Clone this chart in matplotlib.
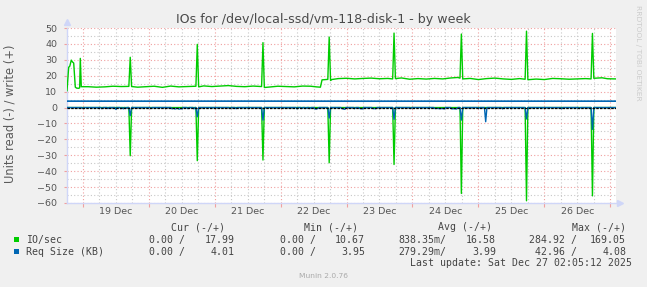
import matplotlib
matplotlib.use("Agg")
import matplotlib.pyplot as plt
from matplotlib.ticker import MultipleLocator
import numpy as np

# ---------------- data (hours relative to 19 Dec 00:00) ----------------
write_t = [-5.71, -5.1, -4.7, -4.15, -3.7, -3.27, -2.69, -2.2, -1.45, -1.1, -0.87, -0.51,
           2, 5, 8, 11, 14, 16.8, 17.3, 17.8, 20, 23, 26, 29, 32, 35, 38, 41.2, 41.7, 42.2,
           44, 47, 50, 53, 56, 59, 62, 65.1, 65.6, 66.1, 68, 71, 74, 77, 80, 83, 85, 86.5,
           87.1, 89.2, 89.7, 90.2, 90.6, 93, 96, 99, 102, 105, 108, 111, 112.8, 113.3, 113.8,
           116, 119, 122, 125, 128, 131, 134, 136.5, 137.3, 137.8, 138.3, 141, 144, 147, 150,
           153, 156, 159, 161.0, 161.5, 162.0, 165, 168, 171, 174, 177, 180, 183, 185.0,
           185.5, 186.0, 189, 191, 194.07]
write_io = [10.6, 25.3, 26.0, 29.8, 28.6, 28.0, 12.8, 12.2, 12.1, 12.4, 30.9, 13.1,
            13.1, 12.8, 13.0, 13.4, 13.2, 13.3, 31.6, 13.2, 12.8, 13.1, 13.4, 12.7, 13.5, 13.0, 13.2, 13.4, 39.7, 13.0,
            13.6, 13.2, 13.5, 13.8, 13.3, 13.1, 13.5, 13.2, 40.8, 12.6, 12.9, 13.4, 13.2, 13.0, 13.5, 13.4, 13.0, 12.8,
            17.4, 17.7, 44.3, 17.0, 17.6, 18.2, 18.4, 18.0, 18.3, 18.5, 18.1, 18.3, 18.0, 46.8,
            18.2, 18.6, 17.8, 18.2, 17.9, 18.3, 18.0, 18.6, 18.9, 18.5, 46.2, 18.0, 18.3, 17.6, 18.2, 18.5,
            18.0, 17.7, 18.2, 17.8, 48.0, 17.5, 17.9, 17.6, 18.3, 18.1, 17.8, 18.0, 18.2, 18.0,
            46.6, 18.4, 18.7, 18.1, 17.99]

read_t = [-5.71, 16.8, 17.3, 17.8, 41.2, 41.7, 42.2, 65.1, 65.6, 66.1, 89.2, 89.7, 90.2,
          112.8, 113.3, 113.8, 137.3, 137.8, 138.3, 161.0, 161.5, 162.0, 185.0, 185.5, 186.0, 194.07]
read_io = [0, 0, 30.3, 0, 0, 33.4, 0, 0, 33.0, 0, 0, 34.7, 0,
           0, 35.8, 0, 0, 54.0, 0, 0, 58.6, 0, 0, 55.5, 0, 0]

wsize_t = [-5.71, 20, 60, 100, 140, 194.07]
wsize_kb = [4.02, 4.00, 4.03, 3.99, 4.01, 4.01]

rsize_t = [-5.71, -0.3, 0.1, 0.5, 6.6, 7.0, 7.4, 8.8, 9.2, 9.6, 11.7, 12.1, 12.5, 13.5, 13.9, 14.3,
           14.8, 15.2, 15.7, 16.1, 16.8, 17.3, 17.8, 24.4, 24.8, 25.2, 32.1, 32.5, 33.1, 33.7,
           34.4, 35.1, 35.7, 36.1, 36.5, 37.9, 38.3, 38.7, 40.1, 40.5, 40.9, 41.2, 41.7, 42.2,
           53.2, 53.6, 54.0, 55.4, 55.8, 56.2, 65.1, 65.6, 66.1, 77.6, 78.0, 78.4, 79.3, 79.7,
           80.1, 80.8, 81.2, 81.6, 82.3, 82.7, 83.1, 84.1, 84.5, 85.1, 85.6, 86.0, 89.2, 89.7,
           90.2, 93.9, 94.3, 95.4, 95.8, 98.6, 99.0, 99.4, 100.4, 100.8, 101.9, 102.3, 105.2,
           105.6, 106.7, 107.1, 112.8, 113.3, 113.8, 119.0, 119.4, 119.8, 127.7, 128.1, 129.0,
           129.9, 130.8, 131.7, 132.1, 133.9, 134.3, 135.2, 136.1, 136.5, 137.3, 137.8, 138.3,
           143.7, 144.1, 144.5, 146.2, 146.65, 147.1, 152.4, 152.8, 153.2, 161.0, 161.5, 162.0,
           173.9, 174.3, 174.7, 180.4, 180.8, 181.2, 185.0, 185.5, 186.0, 194.07]
rsize_kb = [0, 0, 0.6, 0, 0, 0.7, 0, 0, 0.6, 0, 0, 1.2, 0, 0, 0.7, 0,
            0.8, 0, 0.6, 0, 0, 5.1, 0, 0, 0.6, 0, 0, 0.8, 0.5, 0.9,
            0.4, 1.0, 0.6, 0.8, 0, 0, 0.7, 0, 0, 0.8, 0, 0, 5.8, 0,
            0, 0.6, 0, 0, 0.7, 0, 0, 7.9, 0, 0, 0.8, 0, 0, 0.6,
            0, 0, 0.6, 0, 0, 0.7, 0, 0, 0.8, 0.9, 0.5, 0, 0, 6.6,
            0, 0, 0.6, 1.1, 0, 0, 0.7, 0, 0, 0.6, 0.8, 0, 0,
            0.6, 0.7, 0, 0, 7.4, 0, 0, 0.6, 0, 0, 0.6, 0.5,
            0.7, 0.6, 0.8, 0, 0, 0.8, 0.7, 0.9, 0, 0, 7.9, 0,
            0, 0.6, 0, 0, 8.9, 0, 0, 0.8, 0, 0, 7.2, 0,
            0, 0.7, 0, 0, 0.6, 0, 0, 13.7, 0, 0]

day_labels = ['19 Dec', '20 Dec', '21 Dec', '22 Dec', '23 Dec', '24 Dec', '25 Dec', '26 Dec']

legend_names = ['IO/sec', 'Req Size (KB)']
legend_colors = ['#00CC00', '#0066B3']
cur_vals = [('0.00 /', '17.99'), ('0.00 /', '4.01')]
min_vals = [('0.00 /', '10.67'), ('0.00 /', '3.95')]
avg_vals = [('838.35m/', '16.58'), ('279.29m/', '3.99')]
max_vals = [('284.92 /', '169.05'), ('42.96 /', '4.08')]

# ---------------- figure ----------------
W, H = 647, 287
fig = plt.figure(figsize=(W / 100, H / 100), dpi=100, facecolor='#F0F0F0')
x0, x1, ytop, ybot = 67, 616, 28, 203
ax = fig.add_axes([x0 / W, (H - ybot) / H, (x1 - x0) / W, (ybot - ytop) / H])
ax.set_facecolor('white')

xmin, xmax = -5.71, 194.07
ax.set_xlim(xmin, xmax)
ax.set_ylim(-60, 50)

# grid
ax.xaxis.set_major_locator(MultipleLocator(24))
ax.xaxis.set_minor_locator(MultipleLocator(6))
ax.yaxis.set_major_locator(MultipleLocator(10))
ax.yaxis.set_minor_locator(MultipleLocator(5))
ax.grid(which='major', color='#F0A0A0', linestyle=(0, (1, 2)), linewidth=0.8)
ax.grid(which='minor', color='#C8C8C8', linestyle=(0, (1, 2)), linewidth=0.8)
ax.set_axisbelow(True)

# data
green, blue = legend_colors
ax.plot(write_t, write_io, color=green, lw=1.0, zorder=3)
ax.plot(read_t, -np.array(read_io), color=green, lw=1.0, zorder=3)
ax.plot(wsize_t, wsize_kb, color=blue, lw=1.2, zorder=4)
ax.plot(rsize_t, -np.array(rsize_kb), color=blue, lw=1.0, zorder=4)
ax.axhline(0, color='black', lw=0.9, linestyle=(0, (2, 1)), zorder=5)

# spines / ticks
for s in ['top', 'right']:
    ax.spines[s].set_visible(False)
for s in ['left', 'bottom']:
    ax.spines[s].set_color('#CFD6F8')
    ax.spines[s].set_linewidth(1.0)
ax.tick_params(axis='x', which='both', labelbottom=False, length=3, color='#F0A0A0', width=0.8)
ax.tick_params(axis='x', which='minor', length=0)
ax.tick_params(axis='y', which='major', length=2, color='#F0A0A0', width=0.8,
               labelsize=6.8, labelcolor='#555555', pad=5)
ax.tick_params(axis='y', which='minor', length=0)
for lab in ax.get_yticklabels():
    lab.set_fontfamily('DejaVu Sans')

sec = ax.secondary_xaxis('bottom')
sec.set_xticks([12 + 24 * i for i in range(len(day_labels))], labels=day_labels)
sec.tick_params(length=0, pad=3, labelsize=6.8, labelcolor='#555555')
sec.spines['bottom'].set_visible(False)

# arrows
ax.plot([0], [1.035], marker='^', ms=5, color='#CFD6F8', transform=ax.transAxes, clip_on=False, zorder=6)
ax.plot([1.008], [0], marker='>', ms=5, color='#CFD6F8', transform=ax.transAxes, clip_on=False, zorder=6)

# texts
def px(x, y):
    return x / W, 1 - y / H

fig.text(*px(323.5, 19), 'IOs for /dev/local-ssd/vm-118-disk-1 - by week', ha='center', va='center',
         fontsize=9.1, color='#4A4A4A', family='DejaVu Sans')
fig.text(*px(10, 114), 'Units read (-) / write (+)', rotation=90, ha='center', va='center',
         fontsize=8.3, color='#5A5A5A', family='DejaVu Sans')
fig.text(*px(638, 53), 'RRDTOOL / TOBI OETIKER', rotation=270, ha='center', va='center',
         fontsize=5.4, color='#CCCCCC', family='DejaVu Sans')

mono = dict(family='DejaVu Sans Mono', fontsize=7.1, color='#444444', va='center')
heads = [('Cur (-/+)', 224.8), ('Min (-/+)', 358.1), ('Avg (-/+)', 492.2), ('Max (-/+)', 626.2)]
for txt, xr in heads:
    fig.text(*px(xr, 227.3), txt, ha='right', **mono)

cols = [(cur_vals, 185.2, 234.3), (min_vals, 316.0, 365.1), (avg_vals, 446.8, 495.9), (max_vals, 576.7, 626.2)]
rows_y = [239.7, 251.7]
for i, (name, col) in enumerate(zip(legend_names, legend_colors)):
    y = rows_y[i]
    fig.patches.append(plt.Rectangle(px(14.4, y + 2.5), 5 / W, 5 / H, transform=fig.transFigure,
                                     facecolor=col, edgecolor='none'))
    fig.text(*px(26, y), name, ha='left', **mono)
    for vals, xl, xr in cols:
        a, b = vals[i]
        fig.text(*px(xl, y), a, ha='right', **mono)
        fig.text(*px(xr, y), b, ha='right', **mono)

fig.text(*px(632, 263.3), 'Last update: Sat Dec 27 02:05:12 2025', ha='right', **mono)
fig.text(*px(323.5, 276), 'Munin 2.0.76', ha='center', va='center', fontsize=5.4, color='#AAAAAA',
         family='DejaVu Sans')

fig.savefig('out.png', dpi=100, facecolor=fig.get_facecolor())
